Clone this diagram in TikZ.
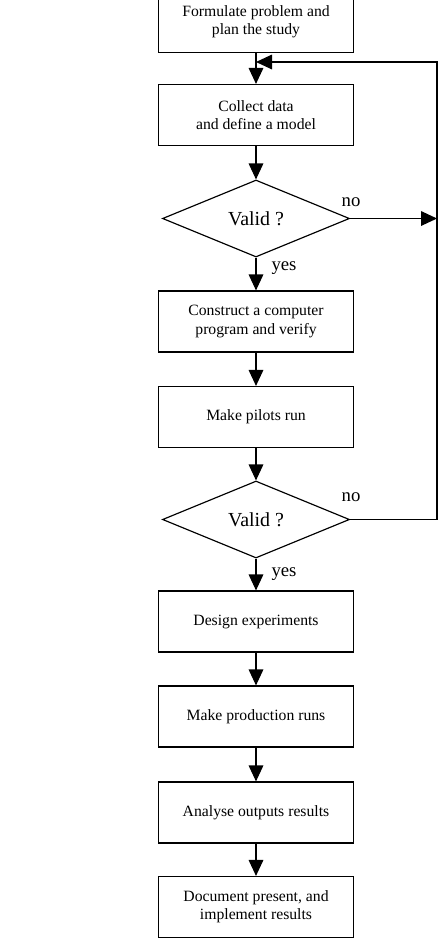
\documentclass[tikz,border=0pt]{standalone}
\usepackage{fontspec}
\setmainfont{Liberation Serif}
\usetikzlibrary{shapes.geometric,arrows.meta}
\begin{document}
\begin{tikzpicture}[x=0.03cm,y=-0.03cm,
    box/.style={draw,line width=1pt,minimum width=5.85cm,minimum height=1.83cm,
      align=center,font=\fontsize{13.4}{15.5}\selectfont},
    test/.style={draw,diamond,line width=1pt,minimum width=5.61cm,minimum height=2.31cm,
      inner sep=0pt,font=\fontsize{17}{20}\selectfont},
    tag/.style={font=\fontsize{16}{19}\selectfont},
    arr/.style={line width=1pt,-{Triangle[length=0.48cm,width=0.44cm]}}]
    \useasboundingbox (0,0) rectangle (444,940);
    \clip (0,0) rectangle (444,940);

    \node[box] (plan) at (256,22) {Formulate problem and\\plan the study};
    \node[box] (model) at (256,115) {Collect data\\and define a model};
    \node[test] (valid1) at (256,218.5) {Valid ?};
    \node[box] (prog) at (256,321.5) {Construct a computer\\program and verify};
    \node[box] (pilot) at (256,417) {Make pilots run};
    \node[test] (valid2) at (256,519.5) {Valid ?};
    \node[box] (design) at (256,621.5) {Design experiments};
    \node[box] (prod) at (256,716.5) {Make production runs};
    \node[box] (anal) at (256,812.5) {Analyse outputs results};
    \node[box] (doc) at (256,907) {Document present, and\\implement results};

    \coordinate (merge) at (256,62);
    \coordinate (corner) at (437,62); % top right of the loop back

    \draw[arr] (plan) -- (model);
    \draw[arr] (model) -- (valid1);
    \draw[arr] (valid1) -- (prog);
    \draw[arr] (prog) -- (pilot);
    \draw[arr] (pilot) -- (valid2);
    \draw[arr] (valid2) -- (design);
    \draw[arr] (design) -- (prod);
    \draw[arr] (prod) -- (anal);
    \draw[arr] (anal) -- (doc);

    \draw[arr] (valid1.east) -- (valid1.east -| corner);
    \draw[arr] (valid2.east) -| (corner) -- (merge);

    \node[tag] (no1) at (351,202) {no};
    \node[tag] (no2) at (351,497) {no};
    \node[tag] (yes1) at (284,268) {yes};
    \node[tag] (yes2) at (284,574) {yes};
\end{tikzpicture}
\end{document}
